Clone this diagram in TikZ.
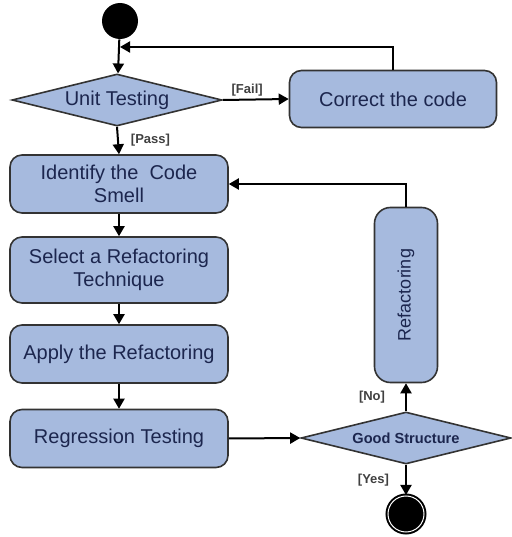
\documentclass[tikz,border=0pt]{standalone}
\usepackage{fontspec}
\setmainfont{Liberation Sans}
\usepackage{xcolor}
\usepackage{tikz}
\usetikzlibrary{shapes.geometric, arrows.meta, positioning, calc}
\definecolor{actfill}{RGB}{166,186,222}
\definecolor{acttext}{RGB}{28,38,78}

\begin{document}
\begin{tikzpicture}[x=0.5pt, y=0.5pt, >={Triangle[length=5pt, width=5.5pt]}]
    \tikzstyle{action}   = [rectangle, rounded corners=6pt, draw=black!80, line width=0.8pt, fill=actfill, text=acttext, align=center, minimum width=109pt, minimum height=29pt, inner sep=2pt, font=\fontsize{10}{11.5}\selectfont]
    \tikzstyle{decision} = [diamond, aspect=4, draw=black!80, line width=0.8pt, fill=actfill, text=acttext, minimum width=105pt, minimum height=26pt, inner sep=0pt]
    \tikzstyle{guard}    = [font=\fontsize{6.5}{7}\selectfont\bfseries, text=black!75, inner sep=1pt]
    \tikzstyle{flow}     = [->, line width=1pt]

    \useasboundingbox (0,0) rectangle (511,537);

    \node (start) [circle, fill=black, minimum size=18pt, inner sep=0pt] at (120,516) {};
    \coordinate (merge) at (120,490);

    \node (unit)    [decision, font=\fontsize{10}{11}\selectfont] at (117,437) {Unit Testing};
    \node (correct) [action, minimum width=103.5pt, minimum height=28.5pt] at (393,438) {Correct the code};

    \node (ident)  [action] at (119,353) {Identify the~ Code\\Smell};
    \node (select) [action, minimum height=33pt] at (119,267) {Select a Refactoring\\Technique};
    \node (apply)  [action] at (119,183) {Apply the Refactoring};
    \node (regr)   [action] at (119,98.5) {Regression Testing};

    \node (good)   [decision, font=\fontsize{7.3}{8}\selectfont\bfseries] at (406,99) {Good Structure};
    \node (refac)  [action, rounded corners=8pt, minimum width=31.5pt, minimum height=87.5pt, font=\fontsize{9}{10}\selectfont] at (406,242) {\rotatebox{90}{Refactoring}};
    \node (finish) [circle, fill=black, draw=black, double=white, double distance=0.5pt, line width=1pt, minimum size=18pt, inner sep=0pt] at (406,23) {};

    \draw [flow] (start) -- (unit);
    \draw [flow] (unit.east) -- node[guard, above, pos=0.37] {[Fail]} (correct.west);
    \draw [flow] (correct.north) |- (merge);
    \draw [flow] (unit.south) -- node[guard, right=5pt] {[Pass]} (ident.north);
    \draw [flow] (ident) -- (select);
    \draw [flow] (select) -- (apply);
    \draw [flow] (apply) -- (regr);
    \draw [flow] (regr.east) -- (good.west);
    \draw [flow] (good.north) -- node[guard, left=9pt] {[No]} (refac.south);
    \draw [flow] (refac.north) |- (ident.east);
    \draw [flow] (good.south) -- node[guard, left=7pt] {[Yes]} (finish.north);
\end{tikzpicture}
\end{document}
